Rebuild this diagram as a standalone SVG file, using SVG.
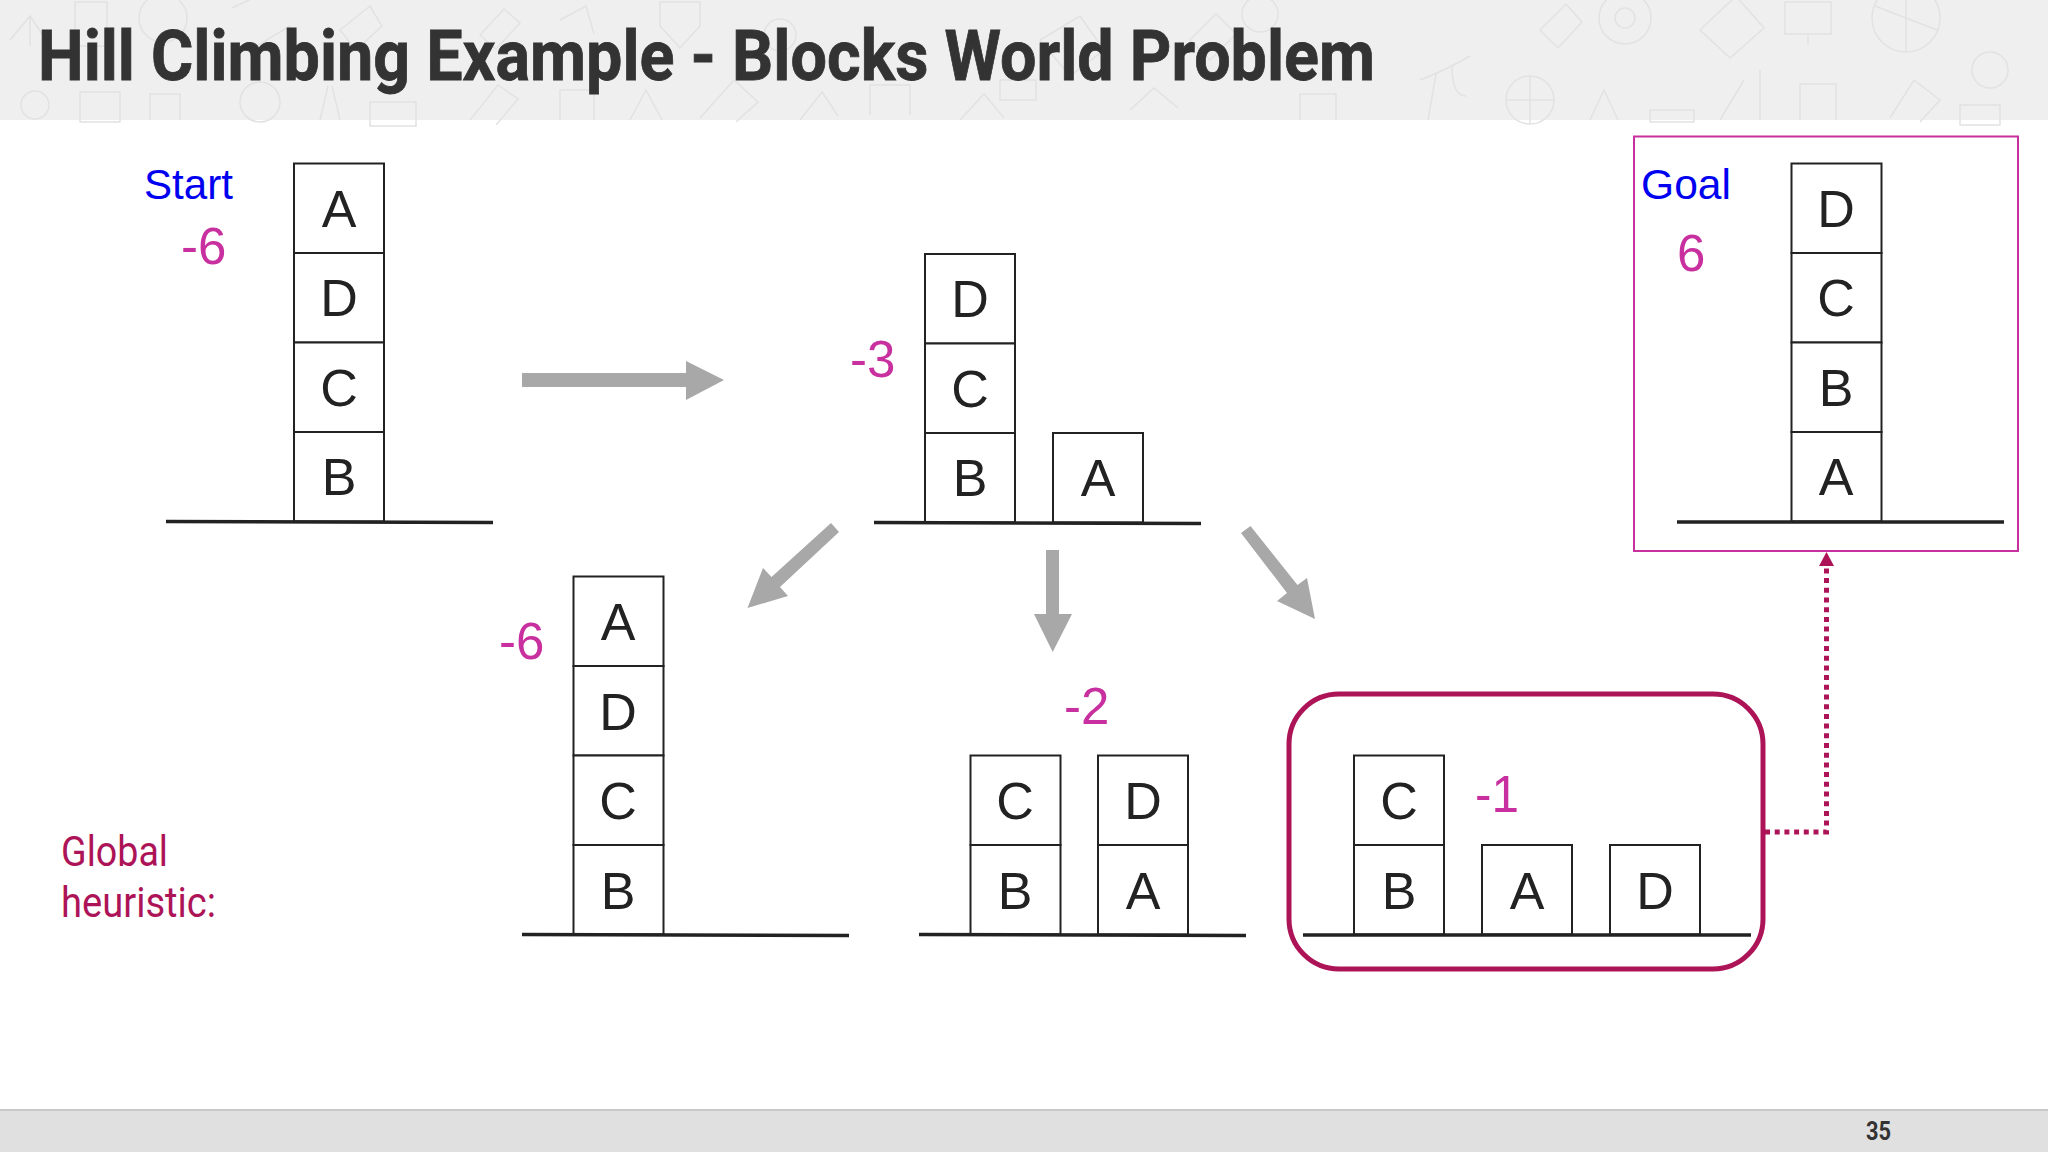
<svg xmlns="http://www.w3.org/2000/svg" width="2048" height="1152" viewBox="0 0 2048 1152">
<style>
.sans{font-family:"Liberation Sans",Arial,sans-serif}
.rb{font-family:Roboto,"Liberation Sans",sans-serif}
.b{fill:#fff;stroke:#222;stroke-width:2}
.l{font-family:"Liberation Sans",Arial,sans-serif;font-size:52px;fill:#222;text-anchor:middle}
.g{stroke:#222;stroke-width:3.500;fill:none}
.h{font-family:"Liberation Sans",Arial,sans-serif;font-size:51px;fill:#c9309f}
.s{font-family:"Liberation Sans",Arial,sans-serif;font-size:43px;fill:#0000f0}
.a{fill:#a8a8a8;stroke:none}
.d{fill:none;stroke:#e2e2e2;stroke-width:1.5}
</style>
<rect width="2048" height="1152" fill="#fff"/>
<g id="header">
<rect width="2048" height="120" fill="#efefef"/>
<g class="d">
<circle cx="163" cy="18" r="24"/><rect x="75" y="2" width="32" height="44"/><path d="M232 8l30 -14M250 50l40 -24"/><path d="M10 40l20 -24l20 30M30 16v30"/>
<path d="M660 2h40v24l-20 22l-20 -22z"/><path d="M480 35l24 -26l16 14l-24 26z"/><circle cx="780" cy="35" r="16"/><path d="M340 30l30 -24l12 20l-26 24zM560 20l26 -14l8 28"/>
<rect x="80" y="92" width="40" height="30"/><circle cx="260" cy="102" r="20"/><rect x="370" y="102" width="46" height="24"/><path d="M150 120v-26h30v26M320 120l8 -34M340 120l-8 -34"/>
<path d="M470 120l28 -35l20 14l-22 26"/><path d="M560 120v-30h34v30"/><path d="M700 118l34 -38l24 22l-22 20"/><path d="M870 115v-30h40v30"/><path d="M630 120l16 -30l16 30M800 120l22 -28l16 24"/>
<circle cx="35" cy="105" r="14"/><path d="M1040 40l40 -24l24 34l-34 26z"/><circle cx="1260" cy="14" r="18"/><path d="M960 120l24 -26l20 24M1300 120v-26h36v26"/>
<path d="M1420 80q30 -12 50 -24M1436 74l-8 46M1452 66q0 30 14 30"/>
<circle cx="1530" cy="100" r="24"/><path d="M1506 100h48M1530 76v48"/><path d="M1590 120l14 -30l14 30M1650 110h44v12h-44z"/>
<circle cx="1625" cy="18" r="26"/><circle cx="1625" cy="18" r="10"/><path d="M1540 30l26 -26l16 18l-24 26z"/>
<path d="M1700 30l36 -34l28 32l-34 30z"/><rect x="1785" y="2" width="46" height="32"/><path d="M1808 34v10"/>
<circle cx="1906" cy="18" r="34"/><path d="M1875 6l62 24M1906 -14v66"/><path d="M1800 120v-36h36v36"/><path d="M1890 118l24 -38l26 20l-20 22"/><circle cx="1990" cy="70" r="18"/><rect x="1960" y="105" width="40" height="20"/><path d="M1720 120l24 -40M1760 120v-50"/>
<path d="M1190 40l26 -26l20 20l-26 26z"/><path d="M1130 110l24 -22l24 20"/><path d="M1000 100h36v-20h-36z"/>
</g>
<text class="rb" x="38" y="80" font-size="71" font-weight="700" fill="#333" stroke="#333" stroke-width="0.800" textLength="1337" lengthAdjust="spacingAndGlyphs">Hill Climbing Example - Blocks World Problem</text>
</g>
<g id="footer">
<rect y="1110" width="2048" height="42" fill="#e0e0e0"/>
<rect y="1109" width="2048" height="2" fill="#c8c8c8"/>
<text class="rb" x="1866" y="1140" font-size="26" font-weight="700" fill="#333" textLength="25" lengthAdjust="spacingAndGlyphs">35</text>
</g>
<g id="start">
<text class="s" x="144" y="199" textLength="89" lengthAdjust="spacingAndGlyphs">Start</text><text class="h" x="181" y="264">-6</text>
<rect class="b" x="294" y="163.500" width="90" height="89.500"/><rect class="b" x="294" y="253" width="90" height="89.500"/><rect class="b" x="294" y="342.500" width="90" height="89.500"/><rect class="b" x="294" y="432" width="90" height="89.500"/>
<path class="g" d="M166 521.500L493 522.500"/>
<text class="l" x="339" y="226.500">A</text><text class="l" x="339" y="316">D</text><text class="l" x="339" y="405.500">C</text><text class="l" x="339" y="495">B</text>
</g>
<g id="state2">
<text class="h" x="850" y="377">-3</text>
<rect class="b" x="925" y="254" width="90" height="89.500"/><rect class="b" x="925" y="343.500" width="90" height="89.500"/><rect class="b" x="925" y="433" width="90" height="89.500"/><rect class="b" x="1053" y="433" width="90" height="89.500"/>
<path class="g" d="M874 522.500L1201 523.500"/>
<text class="l" x="970" y="317">D</text><text class="l" x="970" y="406.500">C</text><text class="l" x="970" y="496">B</text><text class="l" x="1098" y="496">A</text>
</g>
<g id="state3">
<text class="h" x="499" y="659">-6</text>
<rect class="b" x="573.500" y="576.500" width="90" height="89.500"/><rect class="b" x="573.500" y="666" width="90" height="89.500"/><rect class="b" x="573.500" y="755.500" width="90" height="89.500"/><rect class="b" x="573.500" y="845" width="90" height="89.500"/>
<path class="g" d="M522 934.500L849 935.500"/>
<text class="l" x="618" y="640">A</text><text class="l" x="618" y="729.500">D</text><text class="l" x="618" y="819">C</text><text class="l" x="618" y="908.500">B</text>
</g>
<g id="state4">
<text class="h" x="1064" y="724">-2</text>
<rect class="b" x="970.500" y="755.500" width="90" height="89.500"/><rect class="b" x="970.500" y="845" width="90" height="89.500"/><rect class="b" x="1098" y="755.500" width="90" height="89.500"/><rect class="b" x="1098" y="845" width="90" height="89.500"/>
<path class="g" d="M919 934.500L1246 935.500"/>
<text class="l" x="1015" y="819">C</text><text class="l" x="1015" y="908.500">B</text><text class="l" x="1143" y="819">D</text><text class="l" x="1143" y="908.500">A</text>
</g>
<g id="state5">
<rect x="1289" y="694" width="474" height="275" rx="50" fill="none" stroke="#ad1457" stroke-width="5"/>
<text class="h" x="1475" y="812" textLength="44" lengthAdjust="spacingAndGlyphs">-1</text>
<rect class="b" x="1354" y="755.500" width="90" height="89.500"/><rect class="b" x="1354" y="845" width="90" height="89.500"/><rect class="b" x="1482" y="845" width="90" height="89.500"/><rect class="b" x="1610" y="845" width="90" height="89.500"/>
<path class="g" d="M1303 935H1751"/>
<text class="l" x="1399" y="819">C</text><text class="l" x="1399" y="908.500">B</text><text class="l" x="1527" y="908.500">A</text><text class="l" x="1655" y="908.500">D</text>
</g>
<g id="goal">
<rect x="1634" y="136.500" width="384" height="414.500" fill="none" stroke="#c9309f" stroke-width="2"/>
<text class="s" x="1641" y="199" textLength="90" lengthAdjust="spacingAndGlyphs">Goal</text><text class="h" x="1677" y="271">6</text>
<rect class="b" x="1791.500" y="163.500" width="90" height="89.500"/><rect class="b" x="1791.500" y="253" width="90" height="89.500"/><rect class="b" x="1791.500" y="342.500" width="90" height="89.500"/><rect class="b" x="1791.500" y="432" width="90" height="89.500"/>
<path class="g" d="M1677 522H2004"/>
<text class="l" x="1836" y="226.500">D</text><text class="l" x="1836" y="316">C</text><text class="l" x="1836" y="405.500">B</text><text class="l" x="1836" y="495">A</text>
</g>
<g id="global-heuristic" class="rb" font-size="42" fill="#ad1457">
<text x="61" y="866" textLength="107" lengthAdjust="spacingAndGlyphs">Global</text>
<text x="61" y="917" textLength="155" lengthAdjust="spacingAndGlyphs">heuristic:</text>
</g>
<g id="connectors">
<polygon class="a" points="522,373 686,373 686,361 724,380 686,400 686,387 522,387"/>
<polygon class="a" points="831,523 839,532 780,587 788,596 747.500,608 763,568 771.500,577"/>
<polygon class="a" points="1046,550 1059,550 1059,614 1072,614 1052.700,652 1034,614 1046,614"/>
<polygon class="a" points="1241,533 1250.500,526 1297.500,585 1307,578 1315,619 1277,601 1287,593"/>
<path d="M1765 832H1826.500V564" fill="none" stroke="#ad1457" stroke-width="5" stroke-dasharray="5 4.700"/>
<polygon points="1826.500,552 1834,566 1819,566" fill="#ad1457"/>
</g>
</svg>
